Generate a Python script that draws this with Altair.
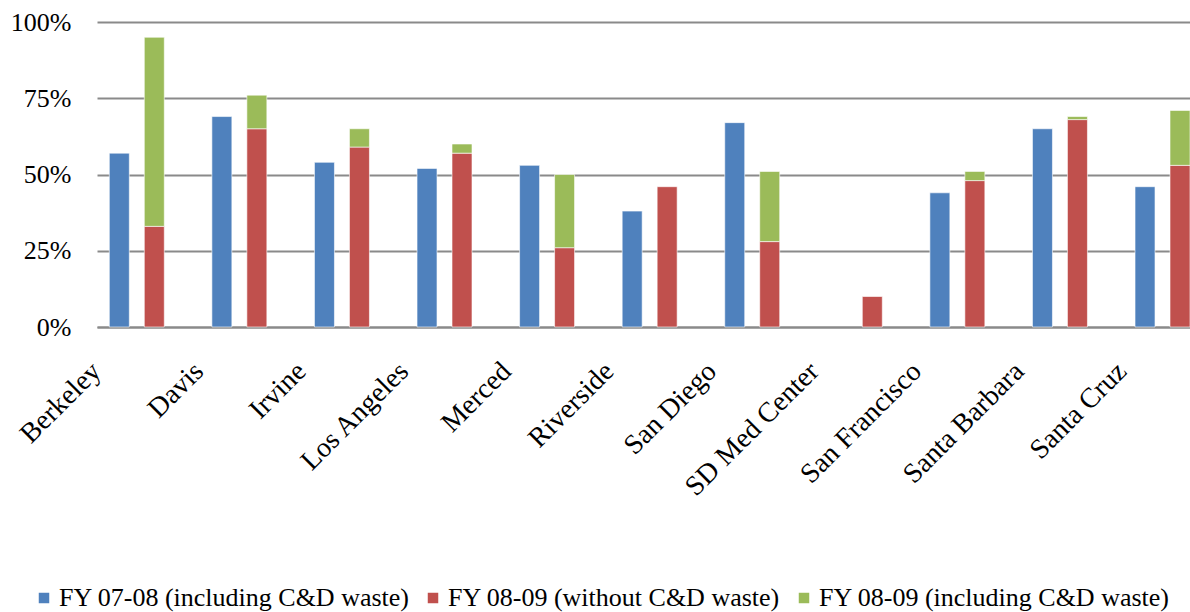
import altair as alt
import pandas as pd

campuses = ["Berkeley", "Davis", "Irvine", "Los Angeles", "Merced", "Riverside",
            "San Diego", "SD Med Center", "San Francisco", "Santa Barbara", "Santa Cruz"]
fy0708_incl = [57, 69, 54, 52, 53, 38, 67, None, 44, 65, 46]
fy0809_without = [33, 65, 59, 57, 26, 46, 28, 10, 48, 68, 53]
fy0809_incl = [95, 76, 65, 60, 50, None, 51, None, 51, 69, 71]

S1 = "FY 07-08 (including C&D waste)"
S2 = "FY 08-09 (without C&D waste)"
S3 = "FY 08-09 (including C&D waste)"
series_names = [S1, S2, S3]
series_colors = ["#4F81BD", "#C0504D", "#9BBB59"]

rows = []
for i, c in enumerate(campuses):
    if fy0708_incl[i] is not None:
        rows.append(dict(cat=c, grp="A", series=S1, y0=0, y1=fy0708_incl[i]))
    rows.append(dict(cat=c, grp="B", series=S2, y0=0, y1=fy0809_without[i]))
    if fy0809_incl[i] is not None:
        rows.append(dict(cat=c, grp="B", series=S3, y0=fy0809_without[i], y1=fy0809_incl[i]))
df = pd.DataFrame(rows)

FONT = "Liberation Serif"
GRID = "#8a8a8a"

chart = alt.Chart(df).mark_bar(stroke="white", strokeWidth=0.6).encode(
    x=alt.X("cat:N", sort=campuses, title=None,
            scale=alt.Scale(paddingInner=0.464, paddingOuter=0.06, align=1),
            axis=alt.Axis(labelAngle=-45, labelFontSize=28, labelFont=FONT, labelColor="black",
                          ticks=False, domainColor=GRID, domainWidth=2, grid=False,
                          labelPadding=30, labelOffset=-50)),
    xOffset=alt.XOffset("grp:N", scale=alt.Scale(paddingInner=0.4286, paddingOuter=0)),
    y=alt.Y("y0:Q", scale=alt.Scale(domain=[0, 100], nice=False),
            axis=alt.Axis(values=[0, 25, 50, 75, 100], labelExpr="datum.value + '%'", title=None,
                          domain=False, ticks=False, gridColor=GRID, gridWidth=2,
                          labelFontSize=26, labelFont=FONT, labelColor="black", labelPadding=26)),
    y2="y1:Q",
    color=alt.Color("series:N", scale=alt.Scale(domain=series_names, range=series_colors),
                    legend=alt.Legend(orient="none", legendX=-66, legendY=563, direction="horizontal",
                                      title=None, labelFontSize=26, labelFont=FONT, labelColor="black",
                                      symbolType="square", symbolSize=110, symbolStrokeWidth=0,
                                      columnPadding=10, labelLimit=0, labelOffset=2, padding=0)),
).properties(
    width=1093, height=305,
    autosize=alt.AutoSizeParams(type="none"),
    padding={"left": 97, "top": 22, "right": 0, "bottom": 285},
).configure_view(stroke=None)

chart.save("out.html", embed_options={"renderer": "svg", "actions": False})
